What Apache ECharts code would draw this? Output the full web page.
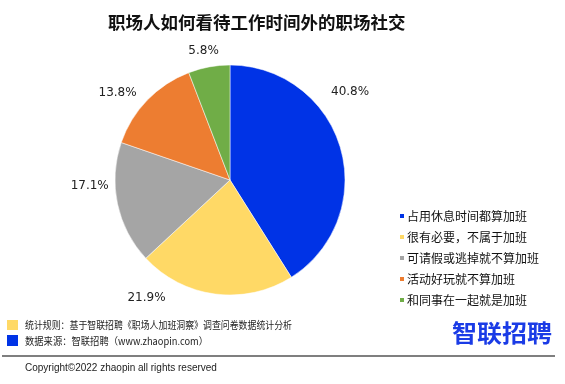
<!DOCTYPE html>
<html><head><meta charset="utf-8">
<script src="https://cdn.jsdelivr.net/npm/echarts@6/dist/echarts.min.js"></script>
<style>html,body{margin:0;padding:0;background:#fff}#c{width:565px;height:384px}</style>
</head><body><div id="c"></div>
<script>
const categories = ['占用休息时间都算加班','很有必要，不属于加班','可请假或逃掉就不算加班','活动好玩就不算加班','和同事在一起就是加班'];
const values = [40.8, 21.9, 17.1, 13.8, 5.8];
const colors = ['#0033E6','#FFD966','#A5A5A5','#ED7D31','#70AD47'];
const titleText = '职场人如何看待工作时间外的职场社交';
const notes = ['统计规则：基于智联招聘《职场人加班洞察》调查问卷数据统计分析','数据来源：智联招聘（www.zhaopin.com）'];
// label nudges (px) to mimic the original's label placement
const labelNudge = [[-26,-53],[-43,-8],[8,-20],[3,1],[17,-4]];

const chart = echarts.init(document.getElementById('c'), null, {renderer:'canvas'});
chart.setOption({
  backgroundColor:'#fff',
  animation:false,
  title:{text:titleText,left:103,top:9,textStyle:{fontSize:17.5,fontWeight:'bold',color:'#111',fontFamily:'Noto Sans CJK SC'}},
  legend:{orient:'vertical',left:393,top:205,itemWidth:6,itemHeight:6,itemGap:9,icon:'rect',
    textStyle:{fontSize:12,color:'#111',fontFamily:'Noto Sans CJK SC',padding:[0,0,0,-3]},data:categories},
  series:[{type:'pie',center:[230,180],radius:[0,115],startAngle:90,clockwise:true,
    data:categories.map((n,i)=>({name:n,value:values[i],itemStyle:{color:colors[i]}})),
    itemStyle:{borderColor:'#fff',borderWidth:0.5},
    label:{show:true,position:'outside',formatter:p=>p.value.toFixed(1)+'%',fontSize:12,color:'#222',fontFamily:'DejaVu Sans'},
    labelLine:{show:false,length:12,length2:0},
    labelLayout:p=>{const o=labelNudge[p.dataIndex];return {dx:o[0],dy:o[1]};}
  }],
  graphic:[
    {type:'rect',shape:{x:7,y:320,width:11,height:10},style:{fill:'#FFD966'}},
    {type:'rect',shape:{x:7,y:335,width:11,height:11},style:{fill:'#0033E6'}},
    {type:'text',x:25,y:325,scaleX:0.89,style:{text:notes[0],fontSize:10,fill:'#222',fontFamily:'Noto Sans CJK SC',verticalAlign:'middle'}},
    {type:'text',x:25,y:341,scaleX:0.93,style:{text:notes[1],fontSize:10,fill:'#222',fontFamily:'Noto Sans CJK SC',verticalAlign:'middle'}},
    {type:'text',x:452,y:333,scaleX:1.04,style:{text:'智联招聘',fontSize:24,fontWeight:'bold',fill:'#1A3BE6',fontFamily:'Noto Sans CJK SC',verticalAlign:'middle'}},
    {type:'line',shape:{x1:2,y1:356,x2:555,y2:356},style:{stroke:'#555',lineWidth:1.5}},
    {type:'text',x:25,y:368,style:{text:'Copyright©2022 zhaopin all rights reserved',fontSize:10,fill:'#222',fontFamily:'Liberation Sans',verticalAlign:'middle'}}
  ]
});
</script></body></html>
